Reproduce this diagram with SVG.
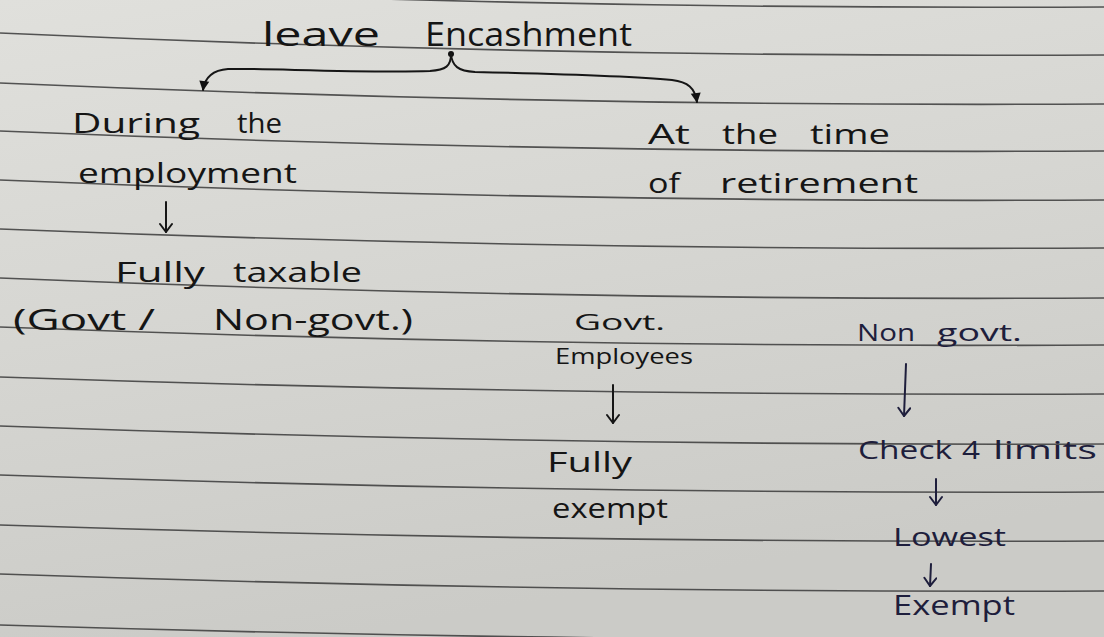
<svg xmlns="http://www.w3.org/2000/svg" width="1104" height="637" viewBox="0 0 1104 637">
<defs>
<linearGradient id="paper" x1="0" y1="0" x2="0.3" y2="1">
<stop offset="0" stop-color="#e0e0dc"/>
<stop offset="0.5" stop-color="#d6d6d2"/>
<stop offset="1" stop-color="#cbcbc7"/>
</linearGradient>
<marker id="vhead" markerUnits="userSpaceOnUse" markerWidth="16" markerHeight="16" refX="11" refY="7" orient="auto">
<path d="M3,1 L11,7 L3,13" fill="none" stroke="#161616" stroke-width="2" stroke-linecap="round" stroke-linejoin="round"/>
</marker>
<marker id="vheadb" markerUnits="userSpaceOnUse" markerWidth="16" markerHeight="16" refX="11" refY="7" orient="auto">
<path d="M3,1 L11,7 L3,13" fill="none" stroke="#1e1e3c" stroke-width="2" stroke-linecap="round" stroke-linejoin="round"/>
</marker>
<marker id="dot" markerUnits="userSpaceOnUse" markerWidth="14" markerHeight="14" refX="10" refY="6" orient="auto">
<path d="M1,1 L11,6 L1,11 z" fill="#111"/>
</marker>
</defs>
<style>
.rule{fill:none;stroke:#3a3a3a;stroke-width:1.6;opacity:0.85}
.ink{font-family:"Open Sans","DejaVu Sans",sans-serif;fill:#151515}
.blue{fill:#1e1e3c}
.conn{fill:none;stroke:#161616;stroke-width:2;stroke-linecap:round}
.connb{fill:none;stroke:#1e1e3c;stroke-width:2;stroke-linecap:round}
</style>
<rect x="0" y="0" width="1104" height="637" fill="url(#paper)"/>
<g id="ruled-lines">
<path class="rule" d="M0,-15 Q552,10 1104,7"/>
<path class="rule" d="M0,33 Q552,58 1104,55"/>
<path class="rule" d="M0,83 Q552,107 1104,104"/>
<path class="rule" d="M0,131 Q552,154 1104,151"/>
<path class="rule" d="M0,180 Q552,203 1104,200"/>
<path class="rule" d="M0,229 Q552,251 1104,248"/>
<path class="rule" d="M0,278 Q552,301 1104,298"/>
<path class="rule" d="M0,327 Q552,348 1104,345"/>
<path class="rule" d="M0,377 Q552,396 1104,394"/>
<path class="rule" d="M0,426 Q552,446 1104,444"/>
<path class="rule" d="M0,475 Q552,494 1104,492"/>
<path class="rule" d="M0,525 Q552,543 1104,541"/>
<path class="rule" d="M0,574 Q552,593 1104,591"/>
<path class="rule" d="M0,625 Q552,642 1104,640"/>
</g>
<g id="connectors">
<circle cx="451" cy="54" r="3" fill="#111"/>
<path class="conn" d="M451,54 C451,66 446,70 430,71 C360,73 260,68 228,69 C214,70 205,76 203,90" marker-end="url(#dot)"/>
<path class="conn" d="M451,54 C452,66 458,71 475,72 C560,74 640,77 672,80 C688,82 695,88 697,102" marker-end="url(#dot)"/>
<path class="conn" d="M166,202 L166,232" marker-end="url(#vhead)"/>
<path class="conn" d="M613,385 L613,423" marker-end="url(#vhead)"/>
<path class="connb" d="M906,364 L904,416" marker-end="url(#vheadb)"/>
<path class="connb" d="M936,479 L936,505" marker-end="url(#vheadb)"/>
<path class="connb" d="M931,564 L930,586" marker-end="url(#vheadb)"/>
</g>
<g id="node-title">
<text class="ink" y="46" font-size="32"><tspan x="262" textLength="118" lengthAdjust="spacingAndGlyphs">leave</tspan><tspan x="425" textLength="207" lengthAdjust="spacingAndGlyphs">Encashment</tspan></text>
</g>
<g id="node-during">
<text class="ink" y="133" font-size="28"><tspan x="72" textLength="128" lengthAdjust="spacingAndGlyphs">During</tspan><tspan x="237" textLength="45" lengthAdjust="spacingAndGlyphs">the</tspan></text>
<text class="ink" x="78" y="183" font-size="28" textLength="219" lengthAdjust="spacingAndGlyphs">employment</text>
</g>
<g id="node-taxable">
<text class="ink" y="282" font-size="28"><tspan x="115" textLength="90" lengthAdjust="spacingAndGlyphs">Fully</tspan><tspan x="233" textLength="129" lengthAdjust="spacingAndGlyphs">taxable</tspan></text>
<text class="ink" y="330" font-size="30"><tspan x="13" textLength="142" lengthAdjust="spacingAndGlyphs">(Govt /</tspan><tspan x="213" textLength="200" lengthAdjust="spacingAndGlyphs">Non-govt.)</tspan></text>
</g>
<g id="node-retirement">
<text class="ink" y="144" font-size="28"><tspan x="648" textLength="42" lengthAdjust="spacingAndGlyphs">At</tspan><tspan x="722" textLength="56" lengthAdjust="spacingAndGlyphs">the</tspan><tspan x="810" textLength="80" lengthAdjust="spacingAndGlyphs">time</tspan></text>
<text class="ink" y="193" font-size="28"><tspan x="648" textLength="32" lengthAdjust="spacingAndGlyphs">of</tspan><tspan x="720" textLength="198" lengthAdjust="spacingAndGlyphs">retirement</tspan></text>
</g>
<g id="node-govt">
<text class="ink" x="574" y="330" font-size="22" textLength="91" lengthAdjust="spacingAndGlyphs">Govt.</text>
<text class="ink" x="555" y="364" font-size="22" textLength="138" lengthAdjust="spacingAndGlyphs">Employees</text>
</g>
<g id="node-fully-exempt">
<text class="ink" x="547" y="472" font-size="28" textLength="85" lengthAdjust="spacingAndGlyphs">Fully</text>
<text class="ink" x="552" y="518" font-size="28" textLength="116" lengthAdjust="spacingAndGlyphs">exempt</text>
</g>
<g id="node-nongovt">
<text class="ink blue" y="341" font-size="24"><tspan x="857" textLength="58" lengthAdjust="spacingAndGlyphs">Non</tspan><tspan x="937" textLength="85" lengthAdjust="spacingAndGlyphs">govt.</tspan></text>
</g>
<g id="node-check">
<text class="ink blue" y="459" font-size="25"><tspan x="858" textLength="94" lengthAdjust="spacingAndGlyphs">Check</tspan><tspan x="962" textLength="18" lengthAdjust="spacingAndGlyphs">4</tspan><tspan x="993" textLength="104" lengthAdjust="spacingAndGlyphs">limits</tspan></text>
</g>
<g id="node-lowest">
<text class="ink blue" x="893" y="546" font-size="25" textLength="113" lengthAdjust="spacingAndGlyphs">Lowest</text>
</g>
<g id="node-exempt">
<text class="ink blue" x="893" y="615" font-size="27" textLength="122" lengthAdjust="spacingAndGlyphs">Exempt</text>
</g>
</svg>
